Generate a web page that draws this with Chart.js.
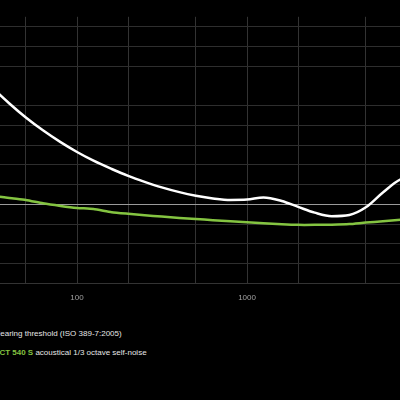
<!DOCTYPE html>
<html>
<head>
<meta charset="utf-8">
<script src="https://cdn.jsdelivr.net/npm/chart.js@4/dist/chart.umd.min.js"></script>
<style>
  html, body { margin:0; padding:0; background:#000; width:400px; height:400px; overflow:hidden; }
  #wrap { position:absolute; left:-60px; top:0; width:540px; height:310px; }
  .leg { position:absolute; left:-5.5px; font-family:"Liberation Sans", Arial, sans-serif; font-size:8px; color:#e6e6e6; white-space:nowrap; line-height:10px; }
  .green { color:#84c441; font-weight:bold; }
</style>
</head>
<body>
<div id="wrap"><canvas id="c"></canvas></div>
<div class="leg" style="top:329px;">Hearing threshold (ISO 389-7:2005)</div>
<div class="leg" style="top:348px;"><span class="green">LCT 540 S</span> acoustical 1/3 octave self-noise</div>
<script>
// 1/3-octave frequencies (Hz)
const freqs = [20, 25, 31.5, 40, 50, 63, 80, 100, 125, 160, 200, 250, 315, 400, 500, 630, 800, 1000, 1250, 1600, 2000, 2500, 3150, 4000, 5000, 6300, 8000, 10000, 12500, 16000, 20000];
// Hearing threshold (dB SPL)
const thresholdFreqs = [20, 25, 31.5, 40, 50, 63, 80, 100, 125, 160, 200, 250, 315, 400, 500, 630, 800, 1000, 1250, 1600, 2000, 2500, 3150, 4000, 5000, 6300, 8000, 10000, 12500, 16000, 20000];
const thresholdValues = [78.5, 68.7, 59.5, 51.1, 44.0, 37.5, 31.5, 26.5, 22.1, 17.9, 14.4, 11.4, 8.6, 6.2, 4.4, 3.0, 2.2, 2.4, 3.5, 1.7, -1.3, -4.2, -6.0, -5.4, -1.5, 6.0, 12.6, 13.9, 12.3, 30.0, 60.0];
// Self-noise (dB SPL, 1/3 octave)
const noiseValues = [7.0, 6.0, 4.6, 3.2, 2.2, 0.5, -0.8, -1.8, -2.4, -4.0, -4.8, -5.5, -6.2, -6.9, -7.4, -8.0, -8.6, -9.1, -9.6, -10.1, -10.4, -10.4, -10.3, -10.0, -9.2, -8.6, -7.8, -7.2, -7.0, -6.5, -6.0];
// Axis ticks
const xTicks = [20, 50, 100, 200, 500, 1000, 2000, 5000, 10000, 20000];
const xTickLabels = ['', '', '100', '', '', '1000', '', '', '10000', ''];
const yTicks = [-40, -30, -20, -10, 0, 10, 20, 30, 40, 50, 70, 80, 90];

const toPts = (xs, ys) => xs.map((x, i) => ({ x: x, y: ys[i] }));

new Chart(document.getElementById('c'), {
  type: 'line',
  data: {
    datasets: [
      {
        label: 'Hearing threshold (ISO 389-7:2005)',
        data: toPts(thresholdFreqs, thresholdValues),
        borderColor: '#ffffff',
        borderWidth: 2.5,
        pointRadius: 0,
        cubicInterpolationMode: 'monotone',
        fill: false
      },
      {
        label: 'LCT 540 S acoustical 1/3 octave self-noise',
        data: toPts(freqs, noiseValues),
        borderColor: '#84c441',
        borderWidth: 2.5,
        pointRadius: 0,
        tension: 0.2,
        fill: false
      }
    ]
  },
  options: {
    responsive: true,
    maintainAspectRatio: false,
    animation: false,
    devicePixelRatio: 1,
    layout: { padding: { left: 18.2, right: 11.8, top: 16.8, bottom: 0 } },
    plugins: { legend: { display: false }, tooltip: { enabled: false } },
    scales: {
      x: {
        type: 'logarithmic',
        min: 20,
        max: 20000,
        afterBuildTicks: (s) => { s.ticks = xTicks.map(v => ({ value: v })); },
        afterFit: (s) => { s.height = 26.7; },
        ticks: {
          autoSkip: false,
          maxRotation: 0,
          padding: 10,
          color: '#a0a0a0',
          font: { family: 'Liberation Sans, Arial, sans-serif', size: 8 },
          callback: (v, i) => xTickLabels[i]
        },
        grid: { color: '#333333', lineWidth: 1, drawTicks: false },
        border: { color: '#333333' }
      },
      y: {
        type: 'linear',
        min: -40,
        max: 95,
        afterBuildTicks: (s) => { s.ticks = yTicks.map(v => ({ value: v })); },
        afterFit: (s) => { s.width = 0; },
        ticks: { display: false },
        grid: {
          drawTicks: false,
          lineWidth: 1,
          color: (ctx) => (ctx.tick && ctx.tick.value === 0) ? '#9a9a9a' : '#2e2e2e'
        },
        border: { display: false }
      }
    }
  }
});
</script>
</body>
</html>
